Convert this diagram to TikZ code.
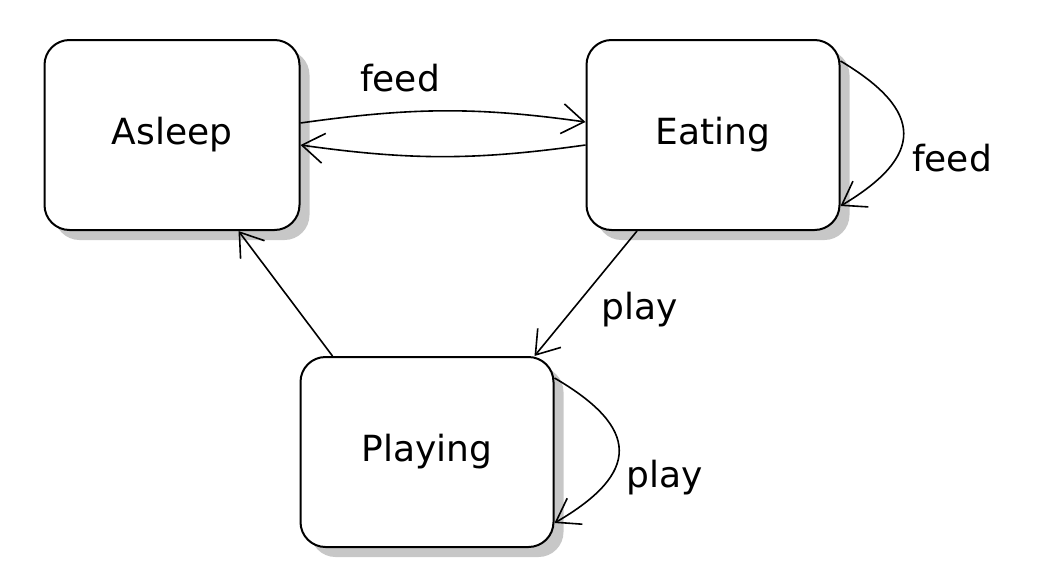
\documentclass[tikz,border=0pt]{standalone}
\usepackage{fontspec}
\setmainfont{DejaVu Sans}
\usetikzlibrary{arrows.meta,shadows}

\tikzset{
  statebox/.style={draw, line width=2pt, fill=white, rounded corners=25pt,
    minimum width=253pt, minimum height=190pt,
    drop shadow={shadow xshift=10pt, shadow yshift=-10pt, fill=black!22, opacity=1}},
  trans/.style={line width=1.6pt, -{Straight Barb[length=22pt,width=30pt,line width=1.6pt]}},
  lbl/.style={inner sep=0pt}
}

\begin{document}
\begin{tikzpicture}[x=1pt, y=-1pt, font=\fontsize{36}{40}\selectfont]
            \useasboundingbox (0,0) rectangle (1050,576);
            % states
            \node [statebox, minimum width=255pt] (asleep) at (172,135) {Asleep};
            \node [statebox] (eating) at (713,135) {Eating};
            \node [statebox] (playing) at (427,452) {Playing};
            % transitions
            \draw [trans] ([yshift=12pt]asleep.east) to[out=8, in=172] ([yshift=13pt]eating.west);
            \draw [trans] ([yshift=-10pt]eating.west) to[out=188, in=-8] ([yshift=-10pt]asleep.east);
            \node [lbl] (feedtop) at (400,78) {feed};
            \draw [trans] ([yshift=-22pt]eating.north east) .. controls +(84,50) and +(84,-50) .. ([yshift=25pt]eating.south east);
            \node [lbl] (feedloop) at (952,158) {feed};
            \draw [trans] ([xshift=-76pt]eating.south) -- ([xshift=-20pt]playing.north east);
            \node [lbl] (playdown) at (640,310) {play};
            \draw [trans] ([xshift=33pt]playing.north west) -- ([xshift=-62pt]asleep.south east);
            \draw [trans] ([yshift=-22pt]playing.north east) .. controls +(86,50) and +(86,-50) .. ([yshift=25pt]playing.south east);
            \node [lbl] (playloop) at (665,478) {play};
\end{tikzpicture}
\end{document}
